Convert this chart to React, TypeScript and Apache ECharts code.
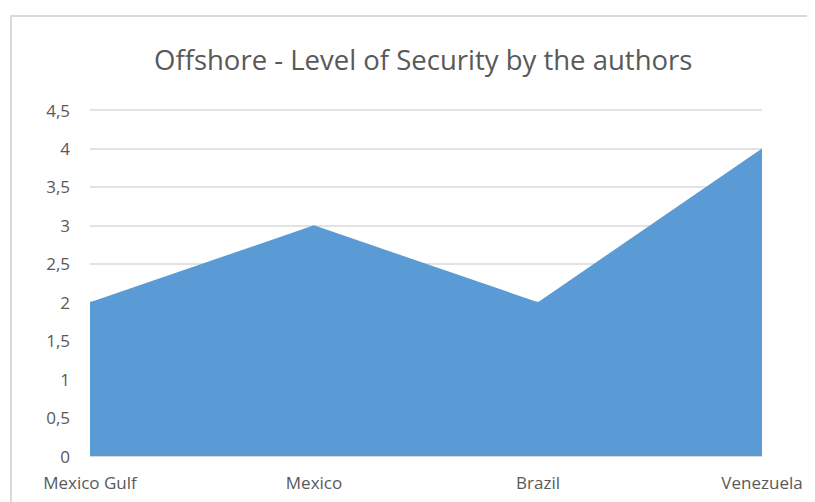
import React, { useEffect, useRef } from "react";
import * as echarts from "echarts";

const categories = ["Mexico Gulf", "Mexico", "Brazil", "Venezuela"];
const securityLevels = [2, 3, 2, 4];
const titleText = "Offshore - Level of Security by the authors";

export default function App() {
  const ref = useRef<HTMLDivElement>(null);
  useEffect(() => {
    if (!ref.current) return;
    const chart = echarts.init(ref.current, null, { renderer: "svg" });
    const font = "'Open Sans', 'Noto Sans', sans-serif";
    chart.setOption({
      animation: false,
      backgroundColor: "#ffffff",
      title: {
        text: titleText,
        left: 141,
        top: 32,
        textStyle: { fontFamily: font, fontSize: 27.5, fontWeight: "normal", color: "#595959" },
      },
      graphic: [
        {
          type: "rect",
          shape: { x: 3, y: 8, width: 830, height: 520 },
          style: { fill: "none", stroke: "#d9d9d9", lineWidth: 2 },
          silent: true,
        },
      ],
      grid: { left: 82, right: 61, top: 102, bottom: 54, containLabel: false },
      xAxis: {
        type: "category",
        data: categories,
        boundaryGap: false,
        axisLine: { show: true, lineStyle: { color: "#d9d9d9" } },
        axisTick: { show: false },
        axisLabel: { color: "#595959", fontFamily: font, fontSize: 17, margin: 18 },
        splitLine: { show: false },
      },
      yAxis: {
        type: "value",
        min: 0,
        max: 4.5,
        interval: 0.5,
        axisLine: { show: false },
        axisTick: { show: false },
        axisLabel: {
          color: "#595959",
          fontFamily: font,
          fontSize: 17,
          margin: 20,
          formatter: (v: number) => String(v).replace(".", ","),
        },
        splitLine: { lineStyle: { color: "#d9d9d9", width: 1.5 } },
      },
      series: [
        {
          type: "line",
          data: securityLevels,
          symbol: "none",
          lineStyle: { width: 0 },
          areaStyle: { color: "#5b9bd5", opacity: 1 },
          itemStyle: { color: "#5b9bd5" },
        },
      ],
    });
    return () => chart.dispose();
  }, []);
  return <div ref={ref} style={{ width: 815, height: 502 }} />;
}
